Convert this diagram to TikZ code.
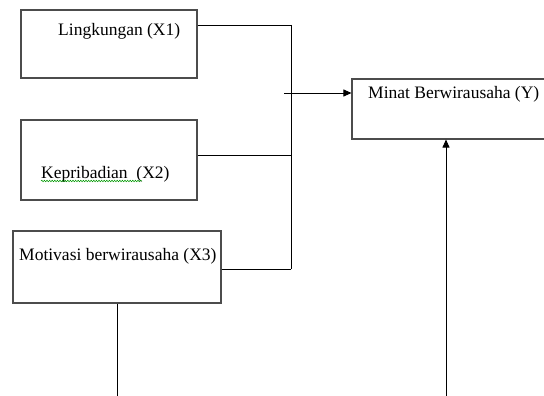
\documentclass[tikz,border=0pt]{standalone}
\usepackage{fontspec}
\setmainfont{Liberation Serif}
\usetikzlibrary{arrows.meta,decorations.pathmorphing}
\tikzset{%
factorbox/.style={draw=black!70,line width=1.1pt,inner sep=0pt},
factortext/.style={inner sep=0pt,font=\fontsize{17.5}{21}\selectfont},
link/.style={draw,line width=0.9pt},
effect/.style={draw,line width=0.9pt,-{Triangle[length=8pt,width=7pt]}},
spell/.style={draw=green!60!black,line width=0.5pt,decorate,
              decoration={snake,amplitude=0.8pt,segment length=2.6pt}}
}

\begin{document}
\begin{tikzpicture}[x=1pt,y=-1pt]
\clip (0,0) rectangle (544,396);
\fill[white] (0,0) rectangle (544,396);

% boxes
\node[factorbox,minimum width=176pt,minimum height=68pt] (lingk) at (109,44)  {};
\node[factorbox,minimum width=176pt,minimum height=80pt] (kepri) at (109,160) {};
\node[factorbox,minimum width=208pt,minimum height=72pt] (motiv) at (117,267) {};
\node[factorbox,minimum width=228pt,minimum height=60pt] (minat) at (466,109) {};

% texts in the boxes
\node[factortext,anchor=base west] (lingktext) at (58,36)  {Lingkungan (X1)};
\node[factortext,anchor=base west] (kepritext) at (41,178) {Kepribadian\ \ (X2)};
\node[factortext,anchor=base west] (motivtext) at (19,260) {Motivasi berwirausaha (X3)};
\node[factortext,anchor=base west] (minattext) at (368,99) {Minat Berwirausaha (Y)};
\draw[spell] (41,181) -- (142,181);

% bus on the right of the X boxes
\coordinate (bus1) at (291,25);
\coordinate (bus2) at (291,155);
\coordinate (bus3) at (291,269);
\draw[link] (bus1) -- (bus3);
\foreach \b/\c in {lingk/bus1,kepri/bus2,motiv/bus3}
  \draw[link] (\b.east |- \c) -- (\c);

\coordinate (feed) at (284,93);
\draw[effect] (feed) -- (feed -| minat.west);

% lines leaving the picture at the bottom
\coordinate (motivend) at (117,400);
\coordinate (minatsrc) at (446,400);
\draw[link] (motiv.south) -- (motivend);
\draw[effect] (minatsrc) -- (minatsrc |- minat.south);
\end{tikzpicture}
\end{document}
